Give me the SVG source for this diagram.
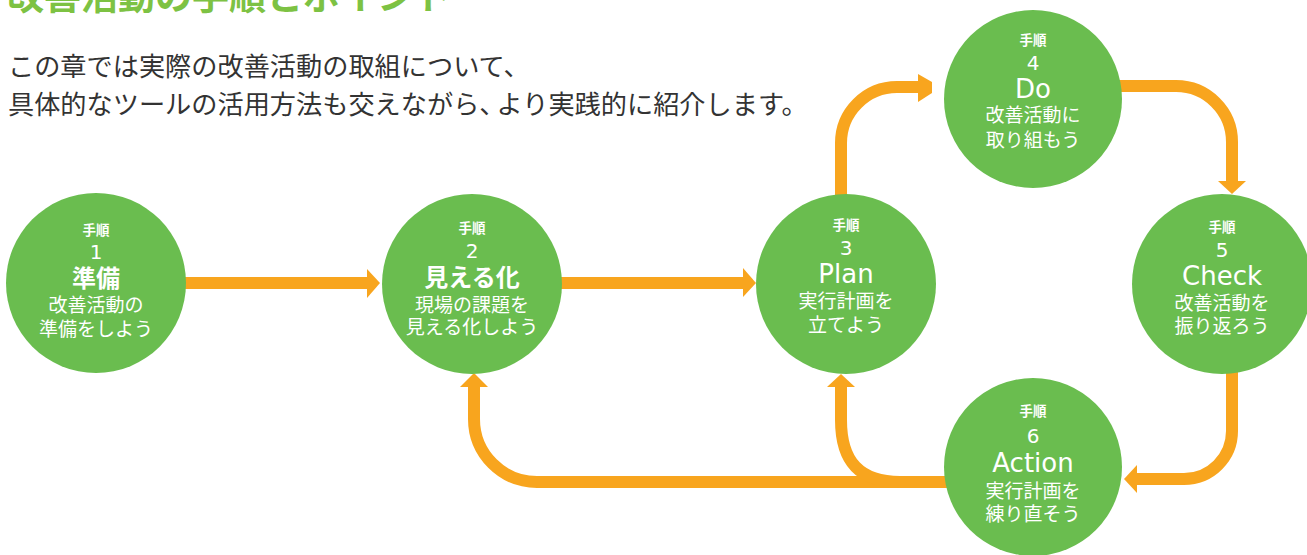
<svg xmlns="http://www.w3.org/2000/svg" width="1307" height="555" viewBox="0 0 1307 555">
<style>
.bg{fill:#ffffff}
.node{fill:#6abd4f}
.conn{fill:none;stroke:#f8a51e;stroke-width:12}
.head{fill:#f8a51e}
.t{fill:#ffffff;text-anchor:middle}
.step{font-family:"Noto Sans CJK JP",sans-serif;font-size:13.5px;font-weight:700}
.num{font-family:"DejaVu Sans",sans-serif;font-size:20px}
.en{font-family:"DejaVu Sans",sans-serif;font-size:26px}
.jh{font-family:"Noto Sans CJK JP",sans-serif;font-size:24px;font-weight:700}
.jl{font-family:"Noto Sans CJK JP",sans-serif;font-size:19px}
.title{font-family:"Noto Sans CJK JP",sans-serif;font-size:37px;font-weight:700;fill:#7dc243}
.lead{font-family:"Noto Sans CJK JP",sans-serif;font-size:26.2px;fill:#333333}
</style>
<rect class="bg" x="0" y="0" width="1307" height="555"/>
<text class="title" x="7" y="10">改善活動の手順とポイント</text>
<text class="lead" x="8" y="76">この章では実際の改善活動の取組について、</text>
<text class="lead" x="8" y="114">具体的なツールの活用方法も交えながら、<tspan dx="-9">より実践的に紹介します。</tspan></text>

<g id="connectors">
  <path class="conn" d="M184,283 H368"/>
  <polygon class="head" points="367,269 380,283 367,298"/>
  <path class="conn" d="M560,283 H744"/>
  <polygon class="head" points="743,268 756,283 743,297"/>
  <path class="conn" d="M841,198 V143 A56,56 0 0 1 897,87 H919"/>
  <polygon class="head" points="918,74 932,82 932,93 918,102"/>
  <path class="conn" d="M1118,86 H1176 A56,56 0 0 1 1232,142 V183"/>
  <polygon class="head" points="1218,181 1246,181 1232,194"/>
  <path class="conn" d="M1232,370 V431 A48,48 0 0 1 1184,479 H1136"/>
  <polygon class="head" points="1137,465 1124,479 1137,493"/>
  <path class="conn" d="M948,482 H537 A63,63 0 0 1 474,419 V386"/>
  <polygon class="head" points="460,387 474,373 488,387"/>
  <path class="conn" d="M841,386 V420 C841,462 860,482 900,482"/>
  <polygon class="head" points="827,387 841,374 855,387"/>
</g>

<g id="step1">
  <circle class="node" cx="96" cy="283" r="90"/>
  <text class="t step" x="96" y="235">手順</text>
  <text class="t num" x="96" y="259">1</text>
  <text class="t jh" x="96" y="287">準備</text>
  <text class="t jl" x="96" y="312">改善活動の</text>
  <text class="t jl" x="96" y="336">準備をしよう</text>
</g>
<g id="step2">
  <circle class="node" cx="472" cy="284" r="90"/>
  <text class="t step" x="472" y="233">手順</text>
  <text class="t num" x="472" y="258">2</text>
  <text class="t jh" x="472" y="286">見える化</text>
  <text class="t jl" x="472" y="312">現場の課題を</text>
  <text class="t jl" x="472" y="334">見える化しよう</text>
</g>
<g id="step3">
  <circle class="node" cx="846" cy="284" r="90"/>
  <text class="t step" x="846" y="230">手順</text>
  <text class="t num" x="846" y="255">3</text>
  <text class="t en" x="846" y="283">Plan</text>
  <text class="t jl" x="846" y="308">実行計画を</text>
  <text class="t jl" x="846" y="332">立てよう</text>
</g>
<g id="step4">
  <circle class="node" cx="1033" cy="99" r="89"/>
  <text class="t step" x="1033" y="45">手順</text>
  <text class="t num" x="1033" y="70">4</text>
  <text class="t en" x="1033" y="98">Do</text>
  <text class="t jl" x="1033" y="122">改善活動に</text>
  <text class="t jl" x="1033" y="147">取り組もう</text>
</g>
<g id="step5">
  <circle class="node" cx="1222" cy="284" r="90"/>
  <text class="t step" x="1222" y="232">手順</text>
  <text class="t num" x="1222" y="257">5</text>
  <text class="t en" x="1222" y="285">Check</text>
  <text class="t jl" x="1222" y="310">改善活動を</text>
  <text class="t jl" x="1222" y="333">振り返ろう</text>
</g>
<g id="step6">
  <circle class="node" cx="1033" cy="467" r="89"/>
  <text class="t step" x="1033" y="416">手順</text>
  <text class="t num" x="1033" y="443">6</text>
  <text class="t en" x="1033" y="472">Action</text>
  <text class="t jl" x="1033" y="498">実行計画を</text>
  <text class="t jl" x="1033" y="521">練り直そう</text>
</g>
</svg>
